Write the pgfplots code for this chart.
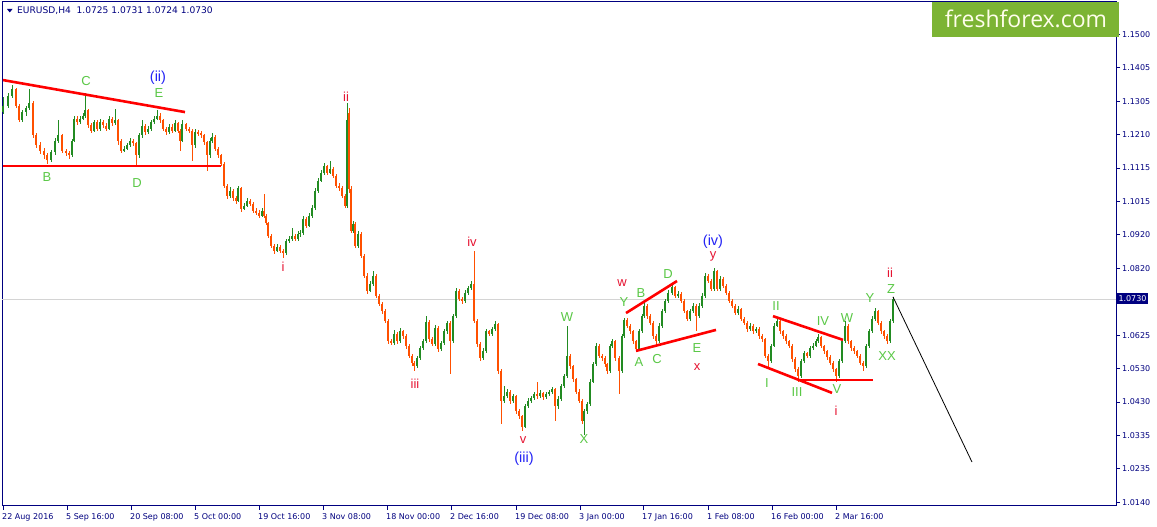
\documentclass[border=0pt]{standalone}
\usepackage{pgfplots}
\usepackage{pgfplotstable}
\pgfplotsset{compat=1.18}
\usepackage{fontspec}
\setmainfont{DejaVu Sans}
\newfontfamily\arialf{Liberation Sans}
\newfontfamily\logof{Open Sans}

\definecolor{navy}{RGB}{0,0,128}
\definecolor{upcol}{RGB}{34,139,34}
\definecolor{dncol}{RGB}{255,80,0}
\definecolor{wblue}{RGB}{35,35,245}
\definecolor{wgreen}{RGB}{90,200,70}
\definecolor{wred}{RGB}{230,20,50}
\definecolor{logogreen}{RGB}{124,180,52}

% H4 candles, one per ~3 bars: x (pixel column), open, high, low, close
\pgfplotstableread{
x o h l c
3 1.1275 1.1318 1.1268 1.1293
8 1.1293 1.1330 1.1286 1.1322
12 1.1322 1.1352 1.1315 1.1340
16 1.1340 1.1345 1.1285 1.1293
19 1.1293 1.1298 1.1244 1.1250
22 1.1250 1.1280 1.1245 1.1273
26 1.1273 1.1292 1.1262 1.1285
29 1.1285 1.1340 1.1280 1.1299
33 1.1299 1.1305 1.1198 1.1206
36 1.1206 1.1212 1.1170 1.1177
40 1.1177 1.1188 1.1152 1.1162
44 1.1162 1.1170 1.1138 1.1148
47 1.1148 1.1155 1.1124 1.1135
51 1.1135 1.1163 1.1130 1.1157
55 1.1157 1.1198 1.1150 1.1191
58 1.1191 1.1250 1.1185 1.1206
62 1.1206 1.1210 1.1155 1.1162
66 1.1162 1.1168 1.1145 1.1154
69 1.1154 1.1160 1.1139 1.1148
72 1.1148 1.1196 1.1144 1.1191
74 1.1191 1.1262 1.1186 1.1255
77 1.1255 1.1262 1.1236 1.1244
80 1.1244 1.1263 1.1238 1.1255
83 1.1255 1.1272 1.1250 1.1264
85 1.1264 1.1328 1.1258 1.1279
88 1.1279 1.1284 1.1228 1.1235
91 1.1235 1.1242 1.1212 1.1220
94 1.1220 1.1252 1.1215 1.1244
97 1.1244 1.1250 1.1220 1.1226
100 1.1226 1.1255 1.1220 1.1244
103 1.1244 1.1250 1.1228 1.1235
106 1.1235 1.1242 1.1218 1.1226
109 1.1226 1.1262 1.1222 1.1255
112 1.1255 1.1260 1.1235 1.1241
115 1.1241 1.1282 1.1236 1.1250
118 1.1250 1.1255 1.1177 1.1191
121 1.1191 1.1196 1.1155 1.1162
124 1.1162 1.1176 1.1158 1.1168
127 1.1168 1.1185 1.1163 1.1177
130 1.1177 1.1200 1.1172 1.1191
133 1.1191 1.1196 1.1175 1.1183
136 1.1183 1.1188 1.1116 1.1148
139 1.1148 1.1212 1.1142 1.1206
142 1.1206 1.1250 1.1200 1.1235
145 1.1235 1.1240 1.1208 1.1215
148 1.1215 1.1233 1.1210 1.1226
151 1.1226 1.1250 1.1220 1.1244
154 1.1244 1.1262 1.1238 1.1255
157 1.1255 1.1279 1.1250 1.1264
160 1.1264 1.1270 1.1243 1.1250
163 1.1250 1.1255 1.1218 1.1226
166 1.1226 1.1232 1.1206 1.1215
169 1.1215 1.1240 1.1210 1.1232
172 1.1232 1.1238 1.1213 1.1220
175 1.1220 1.1250 1.1215 1.1241
178 1.1241 1.1246 1.1212 1.1220
180 1.1220 1.1225 1.1162 1.1191
182 1.1191 1.1250 1.1186 1.1238
186 1.1238 1.1243 1.1218 1.1226
189 1.1226 1.1232 1.1212 1.1220
192 1.1220 1.1224 1.1133 1.1177
195 1.1177 1.1226 1.1170 1.1215
198 1.1215 1.1222 1.1204 1.1212
201 1.1212 1.1218 1.1198 1.1206
204 1.1206 1.1210 1.1178 1.1186
207 1.1186 1.1190 1.1104 1.1148
210 1.1148 1.1198 1.1142 1.1191
212 1.1191 1.1212 1.1185 1.1203
215 1.1203 1.1208 1.1160 1.1168
218 1.1168 1.1172 1.1140 1.1148
221 1.1148 1.1152 1.1116 1.1124
224 1.1124 1.1128 1.1052 1.1060
227 1.1060 1.1066 1.1022 1.1031
230 1.1031 1.1055 1.1025 1.1046
233 1.1046 1.1050 1.1015 1.1023
236 1.1023 1.1030 1.1008 1.1017
238 1.1017 1.1060 1.1012 1.1052
241 1.1052 1.1056 1.0985 1.0993
244 1.0993 1.1010 1.0988 1.1002
247 1.1002 1.1025 1.0997 1.1017
250 1.1017 1.1022 1.1000 1.1008
253 1.1008 1.1012 1.0980 1.0987
256 1.0987 1.0995 1.0975 1.0982
259 1.0982 1.0988 1.0966 1.0973
262 1.0973 1.0994 1.0968 1.0987
264 1.0987 1.1037 1.0966 1.0973
266 1.0973 1.0978 1.0945 1.0952
268 1.0952 1.0956 1.0908 1.0915
271 1.0915 1.0920 1.0878 1.0886
274 1.0886 1.0892 1.0862 1.0871
277 1.0871 1.0890 1.0866 1.0883
280 1.0883 1.0888 1.0864 1.0871
283 1.0871 1.0876 1.0851 1.0865
286 1.0865 1.0906 1.0860 1.0900
289 1.0900 1.0914 1.0893 1.0906
292 1.0906 1.0938 1.0900 1.0915
295 1.0915 1.0920 1.0898 1.0906
298 1.0906 1.0928 1.0900 1.0920
300 1.0920 1.0930 1.0912 1.0923
303 1.0923 1.0972 1.0918 1.0964
306 1.0964 1.0968 1.0937 1.0944
309 1.0944 1.0980 1.0940 1.0973
312 1.0973 1.1004 1.0966 1.0996
315 1.0996 1.1052 1.0990 1.1046
318 1.1046 1.1082 1.1040 1.1075
321 1.1075 1.1106 1.1070 1.1098
324 1.1098 1.1125 1.1090 1.1116
327 1.1116 1.1120 1.1090 1.1098
330 1.1098 1.1133 1.1094 1.1110
333 1.1110 1.1115 1.1082 1.1089
336 1.1089 1.1094 1.1052 1.1060
339 1.1060 1.1068 1.1045 1.1052
342 1.1052 1.1058 1.1024 1.1031
345 1.1031 1.1036 1.0995 1.1002
347 1.1002 1.1299 1.0995 1.1250
349 1.1270 1.1285 1.1040 1.1050
351 1.1050 1.1060 1.0922 1.0929
353 1.0929 1.0958 1.0924 1.0950
355 1.0950 1.0955 1.0880 1.0886
358 1.0886 1.0928 1.0880 1.0920
361 1.0920 1.0925 1.0850 1.0856
364 1.0856 1.0862 1.0792 1.0799
367 1.0799 1.0805 1.0746 1.0754
370 1.0754 1.0783 1.0750 1.0775
373 1.0775 1.0813 1.0770 1.0799
376 1.0799 1.0804 1.0733 1.0740
379 1.0740 1.0746 1.0710 1.0717
382 1.0717 1.0722 1.0688 1.0696
385 1.0696 1.0702 1.0660 1.0667
388 1.0667 1.0672 1.0600 1.0608
391 1.0608 1.0616 1.0596 1.0603
394 1.0603 1.0640 1.0598 1.0629
397 1.0629 1.0634 1.0600 1.0608
400 1.0608 1.0646 1.0603 1.0637
403 1.0637 1.0642 1.0615 1.0623
406 1.0623 1.0628 1.0586 1.0594
409 1.0594 1.0600 1.0558 1.0565
412 1.0565 1.0570 1.0537 1.0545
414 1.0545 1.0552 1.0521 1.0535
417 1.0535 1.0566 1.0530 1.0559
420 1.0559 1.0595 1.0553 1.0588
423 1.0588 1.0615 1.0582 1.0608
426 1.0608 1.0681 1.0603 1.0665
429 1.0665 1.0670 1.0607 1.0614
432 1.0614 1.0620 1.0593 1.0600
435 1.0600 1.0655 1.0595 1.0647
438 1.0647 1.0652 1.0578 1.0585
441 1.0585 1.0610 1.0580 1.0603
444 1.0603 1.0645 1.0598 1.0637
447 1.0637 1.0668 1.0630 1.0661
450 1.0661 1.0666 1.0513 1.0608
453 1.0608 1.0688 1.0602 1.0681
456 1.0681 1.0762 1.0676 1.0754
459 1.0754 1.0760 1.0724 1.0731
462 1.0731 1.0738 1.0716 1.0725
465 1.0725 1.0756 1.0720 1.0749
468 1.0749 1.0770 1.0742 1.0763
471 1.0763 1.0784 1.0758 1.0775
474 1.0775 1.0871 1.0660 1.0667
477 1.0667 1.0672 1.0592 1.0600
480 1.0600 1.0606 1.0552 1.0559
483 1.0559 1.0588 1.0554 1.0579
486 1.0579 1.0645 1.0574 1.0637
489 1.0637 1.0642 1.0622 1.0629
492 1.0629 1.0650 1.0624 1.0643
495 1.0643 1.0666 1.0638 1.0658
498 1.0658 1.0662 1.0514 1.0521
501 1.0521 1.0526 1.0367 1.0434
504 1.0434 1.0478 1.0428 1.0448
507 1.0448 1.0470 1.0442 1.0462
510 1.0462 1.0466 1.0427 1.0434
513 1.0434 1.0455 1.0428 1.0448
516 1.0448 1.0452 1.0397 1.0404
519 1.0404 1.0410 1.0383 1.0390
522 1.0390 1.0395 1.0346 1.0360
525 1.0360 1.0425 1.0355 1.0419
528 1.0419 1.0442 1.0414 1.0434
531 1.0434 1.0450 1.0428 1.0443
534 1.0443 1.0462 1.0438 1.0454
537 1.0454 1.0490 1.0440 1.0448
540 1.0448 1.0465 1.0442 1.0457
543 1.0457 1.0462 1.0438 1.0445
546 1.0445 1.0462 1.0440 1.0454
549 1.0454 1.0467 1.0448 1.0460
552 1.0460 1.0476 1.0454 1.0469
555 1.0469 1.0472 1.0375 1.0419
558 1.0419 1.0448 1.0412 1.0440
561 1.0440 1.0485 1.0435 1.0478
564 1.0478 1.0514 1.0472 1.0506
567 1.0506 1.0653 1.0500 1.0565
570 1.0565 1.0572 1.0528 1.0535
573 1.0535 1.0540 1.0490 1.0497
576 1.0497 1.0502 1.0455 1.0462
579 1.0462 1.0468 1.0428 1.0434
582 1.0434 1.0440 1.0368 1.0375
584 1.0375 1.0410 1.0337 1.0404
587 1.0404 1.0432 1.0398 1.0425
590 1.0425 1.0498 1.0420 1.0491
593 1.0491 1.0548 1.0486 1.0541
596 1.0541 1.0602 1.0536 1.0594
599 1.0594 1.0600 1.0558 1.0565
602 1.0565 1.0572 1.0552 1.0559
605 1.0559 1.0565 1.0534 1.0541
607 1.0541 1.0546 1.0514 1.0521
610 1.0521 1.0600 1.0516 1.0594
612 1.0594 1.0616 1.0588 1.0608
615 1.0608 1.0612 1.0552 1.0559
619 1.0559 1.0564 1.0455 1.0521
622 1.0521 1.0630 1.0516 1.0623
624 1.0623 1.0676 1.0618 1.0670
627 1.0670 1.0675 1.0646 1.0653
630 1.0653 1.0658 1.0630 1.0637
633 1.0637 1.0642 1.0600 1.0608
636 1.0608 1.0612 1.0579 1.0585
639 1.0585 1.0644 1.0580 1.0637
642 1.0637 1.0688 1.0632 1.0681
644 1.0681 1.0718 1.0676 1.0711
647 1.0711 1.0716 1.0674 1.0681
650 1.0681 1.0686 1.0654 1.0661
653 1.0661 1.0666 1.0616 1.0623
656 1.0623 1.0628 1.0600 1.0608
659 1.0608 1.0660 1.0603 1.0653
662 1.0653 1.0703 1.0648 1.0696
665 1.0696 1.0732 1.0690 1.0725
668 1.0725 1.0756 1.0720 1.0749
672 1.0749 1.0775 1.0742 1.0766
675 1.0766 1.0770 1.0733 1.0740
678 1.0740 1.0755 1.0735 1.0746
681 1.0746 1.0750 1.0718 1.0725
684 1.0725 1.0730 1.0689 1.0696
687 1.0696 1.0700 1.0666 1.0673
690 1.0673 1.0703 1.0668 1.0696
693 1.0696 1.0718 1.0690 1.0711
696 1.0711 1.0716 1.0637 1.0681
699 1.0681 1.0718 1.0676 1.0711
702 1.0711 1.0747 1.0705 1.0740
705 1.0740 1.0806 1.0735 1.0799
708 1.0799 1.0804 1.0777 1.0784
711 1.0784 1.0788 1.0753 1.0760
714 1.0760 1.0822 1.0755 1.0813
717 1.0813 1.0816 1.0753 1.0760
720 1.0760 1.0797 1.0755 1.0790
723 1.0790 1.0795 1.0763 1.0770
726 1.0770 1.0774 1.0742 1.0749
729 1.0749 1.0754 1.0718 1.0725
732 1.0725 1.0730 1.0704 1.0711
735 1.0711 1.0716 1.0683 1.0690
738 1.0690 1.0710 1.0685 1.0702
741 1.0702 1.0706 1.0666 1.0673
744 1.0673 1.0678 1.0654 1.0661
747 1.0661 1.0666 1.0636 1.0643
750 1.0643 1.0660 1.0638 1.0653
753 1.0653 1.0658 1.0630 1.0637
756 1.0637 1.0650 1.0632 1.0643
759 1.0643 1.0648 1.0616 1.0623
762 1.0623 1.0628 1.0607 1.0614
765 1.0614 1.0618 1.0558 1.0565
768 1.0565 1.0570 1.0530 1.0550
771 1.0550 1.0600 1.0545 1.0594
774 1.0594 1.0660 1.0590 1.0653
777 1.0653 1.0676 1.0648 1.0667
780 1.0667 1.0672 1.0630 1.0637
783 1.0637 1.0642 1.0616 1.0623
786 1.0623 1.0628 1.0601 1.0608
789 1.0608 1.0613 1.0587 1.0594
792 1.0594 1.0600 1.0549 1.0556
795 1.0556 1.0561 1.0520 1.0527
798 1.0527 1.0532 1.0491 1.0506
801 1.0506 1.0557 1.0500 1.0550
804 1.0550 1.0580 1.0545 1.0573
807 1.0573 1.0578 1.0558 1.0565
810 1.0565 1.0594 1.0560 1.0587
813 1.0587 1.0602 1.0582 1.0594
816 1.0594 1.0615 1.0590 1.0608
818 1.0608 1.0629 1.0603 1.0620
821 1.0620 1.0624 1.0587 1.0594
824 1.0594 1.0598 1.0572 1.0579
827 1.0579 1.0584 1.0555 1.0562
830 1.0562 1.0567 1.0538 1.0545
833 1.0545 1.0550 1.0520 1.0527
836 1.0527 1.0531 1.0491 1.0506
839 1.0506 1.0556 1.0500 1.0550
842 1.0550 1.0615 1.0545 1.0608
845 1.0608 1.0667 1.0603 1.0653
848 1.0653 1.0657 1.0600 1.0608
851 1.0608 1.0612 1.0581 1.0588
854 1.0588 1.0594 1.0572 1.0579
857 1.0579 1.0584 1.0558 1.0565
860 1.0565 1.0570 1.0538 1.0545
863 1.0545 1.0550 1.0521 1.0535
866 1.0535 1.0600 1.0530 1.0594
869 1.0594 1.0644 1.0589 1.0637
872 1.0637 1.0680 1.0632 1.0673
875 1.0673 1.0704 1.0668 1.0696
878 1.0696 1.0700 1.0654 1.0661
881 1.0661 1.0666 1.0630 1.0637
884 1.0637 1.0642 1.0616 1.0623
887 1.0623 1.0628 1.0599 1.0608
890 1.0608 1.0674 1.0603 1.0667
893 1.0667 1.0737 1.0662 1.0730
}\candles

\begin{document}
\begin{tikzpicture}[x=1pt,y=1pt]
\useasboundingbox[fill=white] (0,0) rectangle (1157,527);
\begin{axis}[
  at={(2pt,21pt)}, anchor=south west,
  scale only axis, width=1114pt, height=504pt,
  xmin=2, xmax=1116, ymin=1.01293, ymax=1.15939,
  axis line style={navy, line width=1pt},
  tick style={navy, line width=0.8pt},
  tick align=outside, major tick length=4pt,
  xtick pos=bottom, ytick pos=right, yticklabel pos=right,
  xtick={3,67,131,195,259,323,387,451,516,580,643,708,772,836},
  xticklabels={22 Aug 2016,5 Sep 16:00,20 Sep 08:00,5 Oct 00:00,19 Oct 16:00,3 Nov 08:00,18 Nov 00:00,2 Dec 16:00,19 Dec 08:00,3 Jan 00:00,17 Jan 16:00,1 Feb 08:00,16 Feb 00:00,2 Mar 16:00},
  xticklabel style={anchor=north west, xshift=-2pt, yshift=-2.5pt, inner sep=1pt},
  ytick={1.15000,1.14029,1.13057,1.12086,1.11114,1.10143,1.09172,1.08200,1.06257,1.05286,1.04314,1.03343,1.02372,1.01400},
  yticklabels={1.1500,1.1405,1.1305,1.1210,1.1115,1.1015,1.0920,1.0820,1.0625,1.0530,1.0430,1.0335,1.0235,1.0140},
  yticklabel style={anchor=west, inner sep=1pt, xshift=1pt},
  ticklabel style={font=\fontsize{8}{9}\selectfont, text=navy},
]
% current price line
\addplot[forget plot, color=black!17, line width=0.8pt] coordinates {(2,1.0730) (1116,1.0730)};
% up candles: wick and body
\addplot[forget plot, draw=none, mark=none,
  x filter/.expression={\thisrow{c}>=\thisrow{o} ? x : nan},
  error bars/.cd, y dir=both, y explicit, error mark=none,
  error bar style={draw=upcol, line width=0.9pt}]
  table[x=x, y expr={0.5*(\thisrow{h}+\thisrow{l})}, y error expr={0.5*(\thisrow{h}-\thisrow{l})}] {\candles};
\addplot[forget plot, draw=none, mark=none,
  x filter/.expression={\thisrow{c}>=\thisrow{o} ? x : nan},
  error bars/.cd, y dir=both, y explicit, error mark=none,
  error bar style={draw=upcol, line width=2.2pt}]
  table[x=x, y expr={0.5*(\thisrow{o}+\thisrow{c})}, y error expr={0.5*(\thisrow{c}-\thisrow{o})}] {\candles};
% down candles
\addplot[forget plot, draw=none, mark=none,
  x filter/.expression={\thisrow{c}<\thisrow{o} ? x : nan},
  error bars/.cd, y dir=both, y explicit, error mark=none,
  error bar style={draw=dncol, line width=0.9pt}]
  table[x=x, y expr={0.5*(\thisrow{h}+\thisrow{l})}, y error expr={0.5*(\thisrow{h}-\thisrow{l})}] {\candles};
\addplot[forget plot, draw=none, mark=none,
  x filter/.expression={\thisrow{c}<\thisrow{o} ? x : nan},
  error bars/.cd, y dir=both, y explicit, error mark=none,
  error bar style={draw=dncol, line width=2.2pt}]
  table[x=x, y expr={0.5*(\thisrow{o}+\thisrow{c})}, y error expr={0.5*(\thisrow{o}-\thisrow{c})}] {\candles};
% wave trend lines
\addplot[red, line width=2.6pt] coordinates {(3,1.1367) (185,1.1274)};
\addplot[red, line width=2.6pt] coordinates {(3,1.1117) (221,1.1117)};
\addplot[red, line width=2.6pt] coordinates {(626,1.0690) (677,1.0783)};
\addplot[red, line width=2.6pt] coordinates {(636,1.0580) (716,1.0641)};
\addplot[red, line width=2.6pt] coordinates {(773,1.0681) (843,1.0612)};
\addplot[red, line width=2.6pt] coordinates {(758,1.0542) (832,1.0458)};
\addplot[red, line width=2.6pt] coordinates {(799,1.0495) (873,1.0495)};
% projection
\addplot[black, line width=0.8pt] coordinates {(893,1.0737) (972,1.0257)};
\end{axis}

% header
\fill[navy] (7,518) -- (12.5,518) -- (9.75,514.5) -- cycle;
\node[anchor=west, text=navy, inner sep=0pt, font=\fontsize{9.1}{10}\selectfont] at (17,516.5) {EURUSD,H4\ \ 1.0725 1.0731 1.0724 1.0730};

% current price label
\node[fill=navy, text=white, anchor=west, inner sep=1.3pt, minimum height=11pt, font=\fontsize{8}{9}\selectfont] at (1117,228) {1.0730};

% logo
\fill[logogreen] (932,490) rectangle (1119,525);
\node[text=white!92!yellow, font=\logof\fontsize{23}{26}\selectfont] at (1026,508.5) {freshforex.com};

% wave labels
\begin{scope}[every node/.style={inner sep=0pt, font=\arialf\fontsize{13}{15}\selectfont}]
\node[text=wblue, font=\arialf\fontsize{14.5}{16}\selectfont] at (158,449) {(ii)};
\node[text=wblue, font=\arialf\fontsize{14.5}{16}\selectfont] at (524,68) {(iii)};
\node[text=wblue, font=\arialf\fontsize{14.5}{16}\selectfont] at (713,285) {(iv)};
\node[text=wgreen] at (86,446) {C};
\node[text=wgreen] at (159,434) {E};
\node[text=wgreen] at (47,350) {B};
\node[text=wgreen] at (137,344) {D};
\node[text=wgreen] at (567,210) {W};
\node[text=wgreen] at (584,88) {X};
\node[text=wgreen] at (624,225) {Y};
\node[text=wgreen] at (641,234) {B};
\node[text=wgreen] at (668,253) {D};
\node[text=wgreen] at (639,165) {A};
\node[text=wgreen] at (657,168) {C};
\node[text=wgreen] at (697,179) {E};
\node[text=wgreen] at (776,221) {II};
\node[text=wgreen] at (823,206) {IV};
\node[text=wgreen] at (847,209) {W};
\node[text=wgreen] at (870,229) {Y};
\node[text=wgreen] at (891,238) {Z};
\node[text=wgreen] at (887,171) {XX};
\node[text=wgreen] at (767,144) {I};
\node[text=wgreen] at (797,135) {III};
\node[text=wgreen] at (837,138) {V};
\node[text=wred] at (346,430) {ii};
\node[text=wred] at (283,260) {i};
\node[text=wred] at (472,285) {iv};
\node[text=wred] at (415,143) {iii};
\node[text=wred] at (523,87) {v};
\node[text=wred] at (622,244) {w};
\node[text=wred] at (713,271) {y};
\node[text=wred] at (697,160) {x};
\node[text=wred] at (890,254) {ii};
\node[text=wred] at (836,116) {i};
\end{scope}
\end{tikzpicture}
\end{document}
